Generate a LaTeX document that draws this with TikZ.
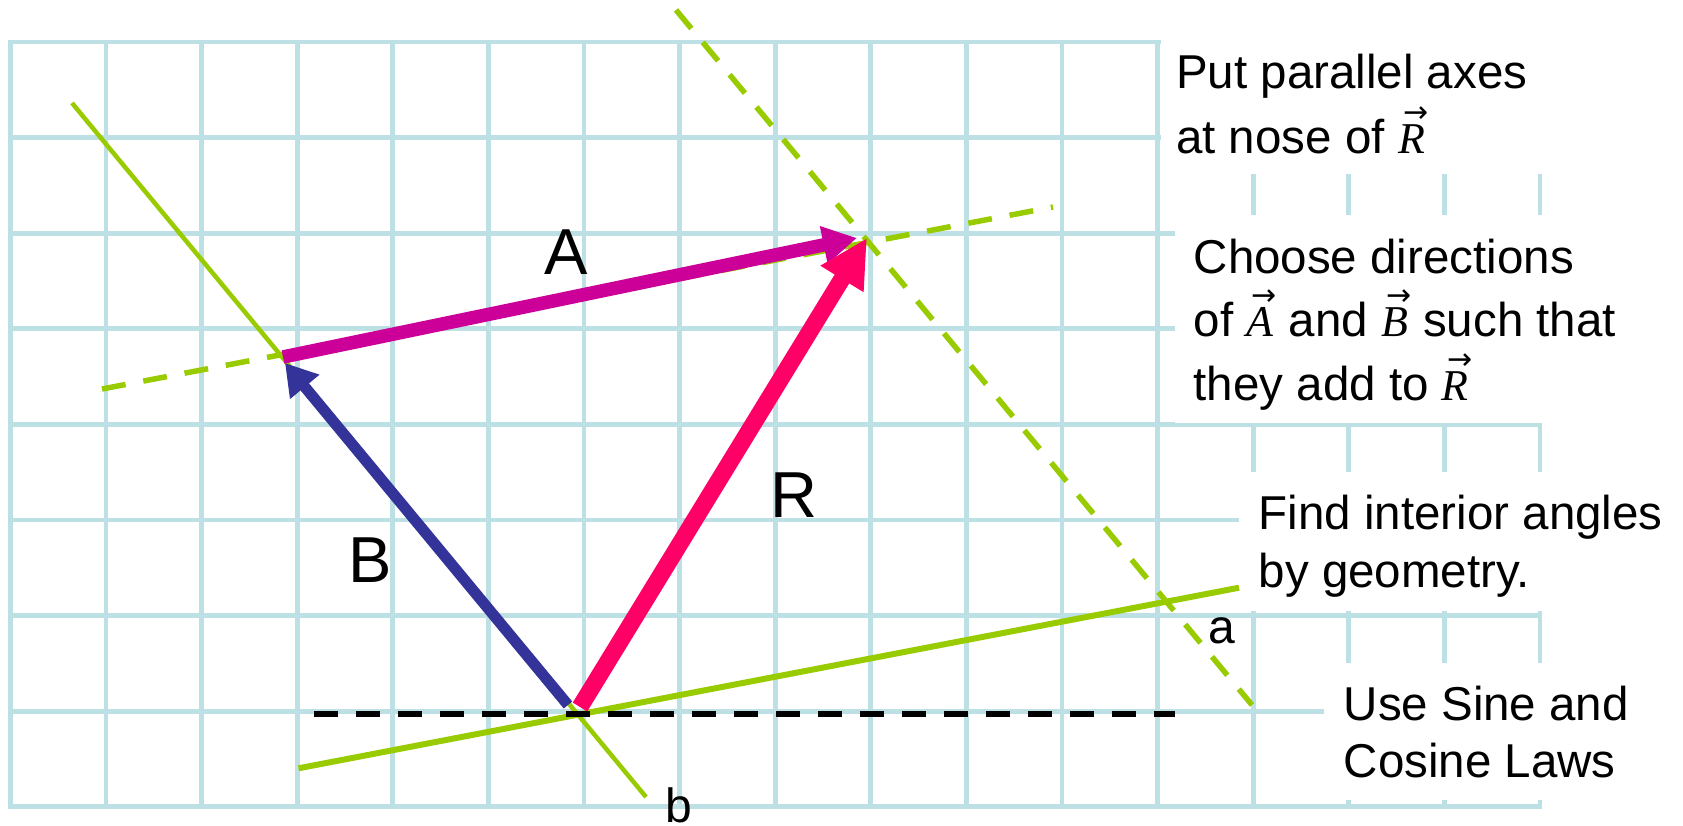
\documentclass[tikz,border=0pt]{standalone}
\usepackage{fontspec}
\setmainfont{Liberation Sans}
\newfontfamily\serifrm{Liberation Serif}
\newfontfamily\arrowfont{DejaVu Sans}
\usetikzlibrary{arrows.meta}
\definecolor{gridc}{RGB}{188,224,228}
\definecolor{bcol}{RGB}{51,51,153}
\definecolor{acol}{RGB}{204,0,153}
\definecolor{rcol}{RGB}{255,0,102}
\definecolor{gcol}{RGB}{153,204,0}
\newcommand{\vlet}[1]{\ooalign{{\fontsize{44}{44}\selectfont\serifrm\itshape #1}\kern2pt\cr\hidewidth\kern7pt\raisebox{31pt}{\fontsize{30}{30}\selectfont\arrowfont →}\hidewidth\cr}}
\tikzset{
  gridline/.style={draw=gridc, line width=4.8pt, line cap=rect},
  coverbox/.style={fill=white, draw=none},
  axisline/.style={draw=gcol, line width=6pt},
  thinaxis/.style={draw=gcol, line width=4.5pt},
  dashaxis/.style={draw=gcol, line width=5.5pt, dash pattern=on 24pt off 18pt},
  blackdash/.style={draw=black, line width=6pt, dash pattern=on 24pt off 18pt},
  vecB/.style={draw=bcol, line width=11pt, -{Triangle[length=31pt, width=36pt]}},
  vecA/.style={draw=acol, line width=13.5pt, -{Triangle[length=34pt, width=36pt]}},
  vecR/.style={draw=rcol, line width=17pt, -{Triangle[length=48pt, width=47pt]}},
  txt/.style={anchor=base west, inner sep=0pt, font=\fontsize{47.5}{57}\selectfont},
  biglab/.style={anchor=base, inner sep=0pt, font=\fontsize{65}{78}\selectfont},
  smalllab/.style={anchor=base, inner sep=0pt, font=\fontsize{48}{58}\selectfont}
}
\begin{document}
\begin{tikzpicture}[x=1pt, y=-1pt]
\useasboundingbox (0,0) rectangle (1683,826);
\fill[white] (0,0) rectangle (1683,826);
% grid
\foreach \i in {0,...,16} \draw[gridline] ({10.3+95.6*\i},42) -- ({10.3+95.6*\i},806.8);
\foreach \j in {0,...,8} \draw[gridline] (10.3,{42+95.6*\j}) -- (1540,{42+95.6*\j});
% white text areas covering the grid
\path[coverbox] (1161,0) rectangle (1683,174);
\path[coverbox] (1175,215) rectangle (1683,423);
\path[coverbox] (1239,472) rectangle (1683,611);
\path[coverbox] (1324,663) rectangle (1683,800);
% key points
\coordinate (O) at (576,713);
\coordinate (Btail) at (568,705);
\coordinate (Rtail) at (580,707);
\coordinate (P) at (283,357);
\coordinate (Btip) at (285,363);
\coordinate (Atip) at (857,238);
\coordinate (Rtip) at (867,238);
\coordinate (bTop) at (72,103);
\coordinate (bEnd) at (646,797);
\coordinate (aStart) at (298.5,768.3);
\coordinate (aEnd) at (1239,587.7);
\coordinate (dA1) at (102,389);
\coordinate (dA2) at (1053,207);
\coordinate (dB1) at (676,10);
\coordinate (dB2) at (1252,705);
\coordinate (k1) at (314,714);
\coordinate (k2) at (1175,714);
% axes
\draw[thinaxis] (bTop) -- (bEnd);
\draw[axisline] (aStart) -- (aEnd);
\draw[dashaxis] (dA1) -- (dA2);
\draw[dashaxis] (dB1) -- (dB2);
\draw[blackdash] (k1) -- (k2);
% vectors
\draw[vecB] (Btail) -- (Btip);
\draw[vecA] (P) -- (Atip);
\draw[vecR] (Rtail) -- (Rtip);
% vector labels
\node[biglab] (labA) at (566,275) {A};
\node[biglab] (labB) at (370,582) {B};
\node[biglab] (labR) at (794,517) {R};
\node[smalllab] (laba) at (1222,643) {a};
\node[smalllab] (labb) at (679,822) {b};
% texts
\node[txt] (t1a) at (1176,88.3) {Put parallel axes};
\node[txt] (t1b) at (1176,153.3) {at nose of \vlet{R}};
\node[txt] (t2a) at (1193.5,273.3) {Choose directions};
\node[txt] (t2b) at (1193.5,336.7) {of \vlet{A} and \vlet{B} such that};
\node[txt] (t2c) at (1193.5,400) {they add to \vlet{R}};
\node[txt] (t3a) at (1258.5,529.3) {Find interior angles};
\node[txt] (t3b) at (1258.5,587.3) {by geometry.};
\node[txt] (t4a) at (1343.5,720) {Use Sine and};
\node[txt] (t4b) at (1343.5,777.7) {Cosine Laws};
\end{tikzpicture}
\end{document}
